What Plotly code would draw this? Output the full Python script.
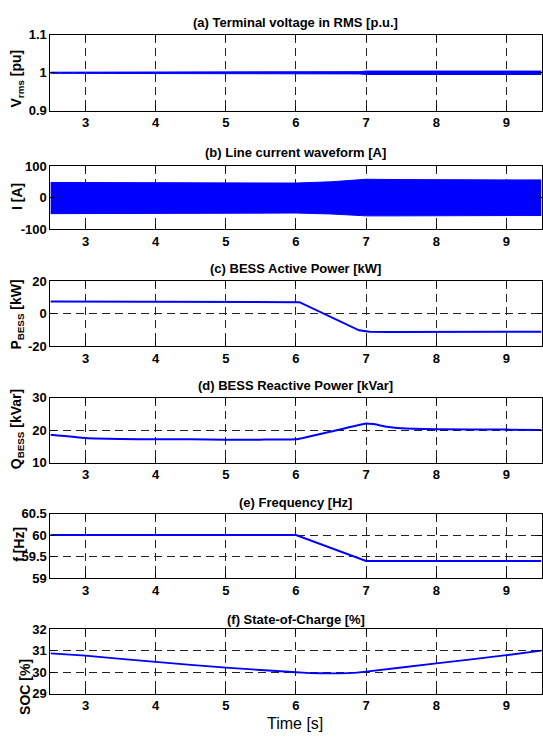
import plotly.graph_objects as go

# ---------------- data ----------------
x_ticks = [3, 4, 5, 6, 7, 8, 9]

# (a) terminal voltage envelope
t_v = [2.5, 6.4, 6.9, 7.0, 9.5]
v_up = [1.0015, 1.0015, 1.003, 1.0045, 1.0045]
v_lo = [0.9985, 0.9985, 0.997, 0.9955, 0.9955]

# (b) line current envelope
t_i = [2.5, 4.0, 5.0, 6.0, 6.5, 6.7, 7.0, 7.5, 8.0, 9.0, 9.5]
i_up = [48, 47, 46, 46, 50, 53, 58, 57, 56, 56, 56]
i_lo = [-51, -51, -50, -49, -52, -55, -58, -58, -57, -57, -57]

# (c) BESS active power
t_p = [2.5, 6.0, 6.05, 6.9, 7.05, 7.3, 9.5]
p_bess = [7.5, 7.5, 7.1, -10.3, -11.2, -11.3, -11.2]

# (d) BESS reactive power
t_q = [2.5, 3.0, 3.5, 4.0, 4.5, 5.0, 5.5, 6.0, 6.1, 6.5, 7.0, 7.1, 7.3, 7.5, 8.0, 9.0, 9.5]
q_bess = [18.6, 17.6, 17.3, 17.2, 17.2, 17.1, 17.1, 17.2, 17.6, 19.6, 22.1, 21.9, 21.1, 20.6, 20.3, 20.2, 20.1]

# (e) frequency
t_f = [2.5, 6.0, 7.0, 9.5]
freq = [60.0, 60.0, 59.4, 59.4]

# (f) state of charge
t_s = [2.5, 3.0, 4.0, 5.0, 6.0, 6.2, 6.5, 6.8, 7.0, 8.0, 9.0, 9.5]
soc = [30.88, 30.77, 30.48, 30.21, 30.0, 29.96, 29.95, 29.97, 30.03, 30.41, 30.79, 31.0]

titles = ["(a) Terminal voltage in RMS [p.u.]", "(b) Line current waveform [A]",
          "(c) BESS Active Power [kW]", "(d) BESS Reactive Power [kVar]",
          "(e) Frequency [Hz]", "(f) State-of-Charge [%]"]
ylabels = ["V<sub>rms</sub> [pu]", "I [A]", "P<sub>BESS</sub> [kW]",
           "Q<sub>BESS</sub> [kVar]", "f [Hz]", "SOC [%]"]
y_tickvals = [[0.9, 1.0, 1.1], [-100, 0, 100], [-20, 0, 20], [10, 20, 30],
              [59, 59.5, 60, 60.5], [29, 30, 31, 32]]
y_ticktext = [["0.9", "1", "1.1"], ["-100", "0", "100"], ["-20", "0", "20"],
              ["10", "20", "30"], ["59", "59.5", "60", "60.5"], ["29", "30", "31", "32"]]

# ---------------- layout geometry (pixels) ----------------
W, H = 543, 741
panel_px = [(28.3, 106), (162.3, 226.7), (280, 346), (399, 465), (517, 583), (635, 701)]
title_py = [16, 148, 267, 386, 506, 625]
ylab_pos = [(17, 73), (17, 193), (17, 314), (17, 431), (19, 548), (25, 694)]
x_left, x_right = 50.5, 542.5

BLUE = "#0000ff"
FONT = "Liberation Sans"
tickfont = dict(family=FONT, size=13, color="black", weight="bold")

fig = go.Figure()

def add(trace, k):
    trace.update(xaxis="x" if k == 1 else f"x{k}", yaxis="y" if k == 1 else f"y{k}")
    fig.add_trace(trace)

# (a)
add(go.Scatter(x=t_v, y=v_lo, mode="lines", line=dict(color=BLUE, width=1), showlegend=False), 1)
add(go.Scatter(x=t_v, y=v_up, mode="lines", line=dict(color=BLUE, width=1), fill="tonexty",
               fillcolor=BLUE, showlegend=False), 1)
# (b)
add(go.Scatter(x=t_i, y=i_lo, mode="lines", line=dict(color=BLUE, width=1), showlegend=False), 2)
add(go.Scatter(x=t_i, y=i_up, mode="lines", line=dict(color=BLUE, width=1), fill="tonexty",
               fillcolor=BLUE, showlegend=False), 2)
# (c)
add(go.Scatter(x=t_p, y=p_bess, mode="lines", line=dict(color=BLUE, width=2), showlegend=False), 3)
# (d)
add(go.Scatter(x=t_q, y=q_bess, mode="lines", line=dict(color=BLUE, width=2, shape="spline", smoothing=0.3),
               showlegend=False), 4)
# (e)
add(go.Scatter(x=t_f, y=freq, mode="lines", line=dict(color=BLUE, width=2), showlegend=False), 5)
# (f)
add(go.Scatter(x=t_s, y=soc, mode="lines", line=dict(color=BLUE, width=1.8, shape="spline", smoothing=0.3),
               showlegend=False), 6)

layout = dict(width=W, height=H, margin=dict(l=0, r=0, t=0, b=0),
              paper_bgcolor="white", plot_bgcolor="white", showlegend=False)

annotations = []
for k in range(1, 7):
    top, bot = panel_px[k - 1]
    ax_common = dict(showline=True, linecolor="black", linewidth=1, mirror="ticks",
                     ticks="inside", ticklen=5, tickcolor="black", tickwidth=1,
                     showgrid=True, gridcolor="#222222", gridwidth=1, griddash="8px,5px",
                     zeroline=False, tickfont=tickfont)
    xa = dict(ax_common, domain=[x_left / W, x_right / W], range=[2.5, 9.5],
              tickvals=x_ticks, ticktext=[str(v) for v in x_ticks],
              anchor="y" if k == 1 else f"y{k}")
    ya = dict(ax_common, domain=[1 - bot / H, 1 - top / H],
              range=[y_tickvals[k - 1][0], y_tickvals[k - 1][-1]],
              tickvals=y_tickvals[k - 1], ticktext=y_ticktext[k - 1],
              anchor="x" if k == 1 else f"x{k}")
    layout["xaxis" if k == 1 else f"xaxis{k}"] = xa
    layout["yaxis" if k == 1 else f"yaxis{k}"] = ya
    annotations.append(dict(text=titles[k - 1], xref="paper", yref="paper",
                            x=(x_left + x_right) / 2 / W, y=1 - title_py[k - 1] / H,
                            xanchor="center", yanchor="middle", showarrow=False,
                            font=dict(family=FONT, size=13, color="black", weight="bold")))
    lx, ly = ylab_pos[k - 1]
    annotations.append(dict(text=ylabels[k - 1], xref="paper", yref="paper",
                            x=lx / W, y=1 - ly / H, xanchor="center", yanchor="middle",
                            textangle=-90, showarrow=False,
                            font=dict(family=FONT, size=14, color="black", weight="bold")))

annotations.append(dict(text="Time [s]", xref="paper", yref="paper",
                        x=296 / W, y=1 - 731 / H, xanchor="center", yanchor="middle",
                        showarrow=False, font=dict(family=FONT, size=16, color="black")))
layout["annotations"] = annotations
fig.update_layout(**layout)
fig.write_html("out.html")
